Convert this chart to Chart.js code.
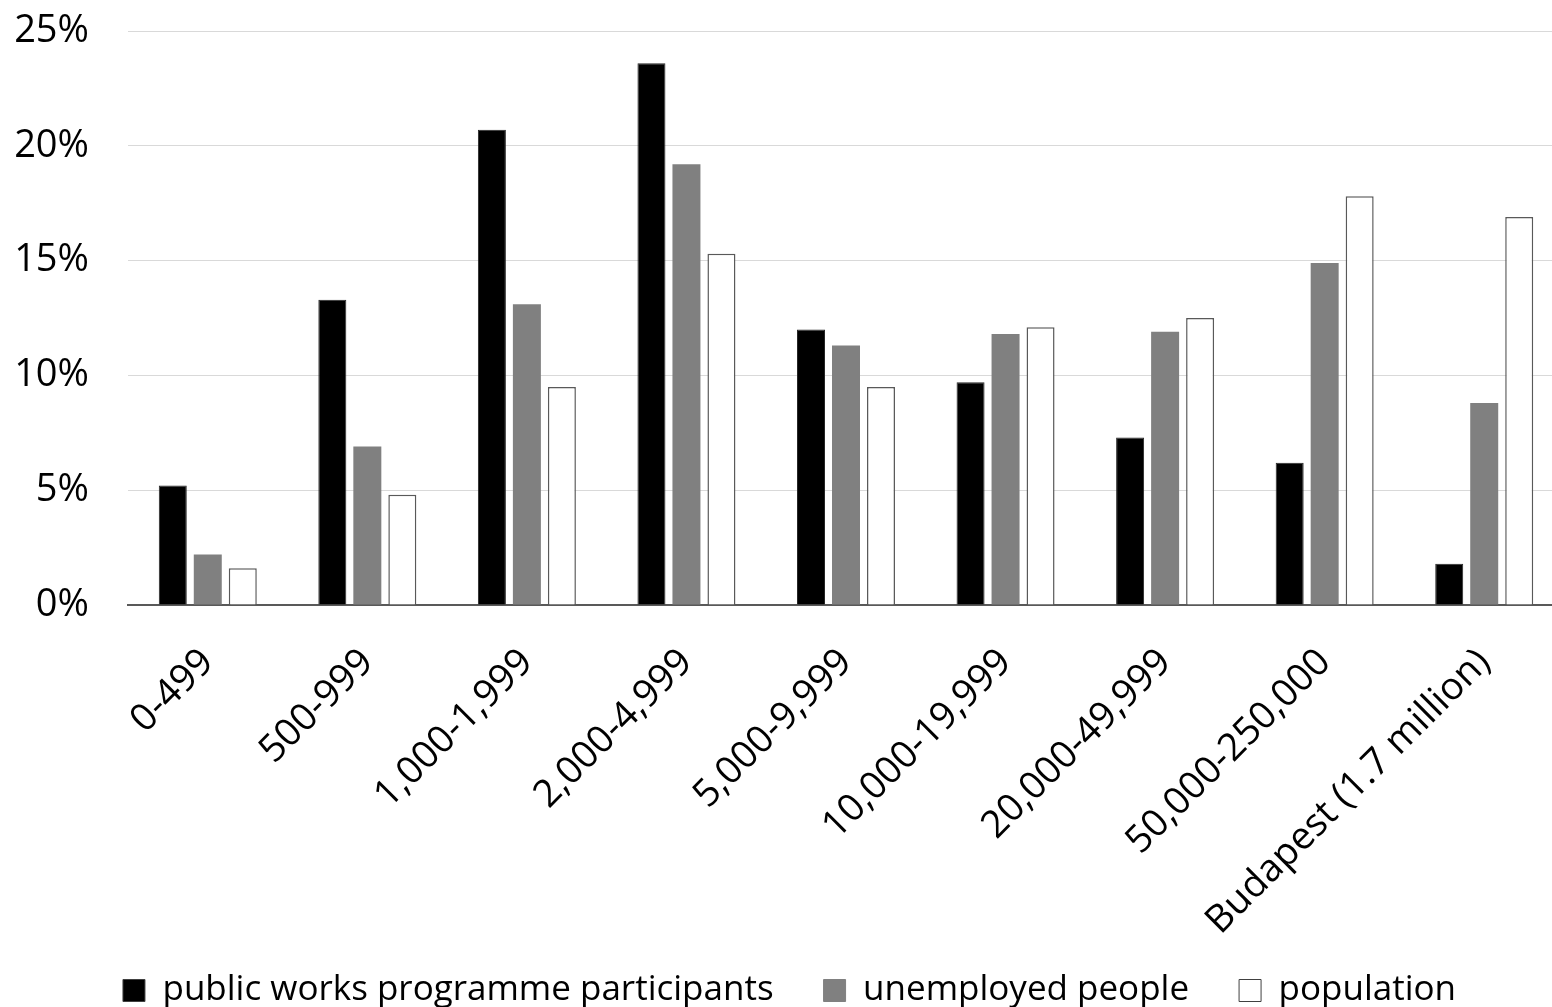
<!DOCTYPE html>
<html>
<head>
<meta charset="utf-8">
<script src="https://cdn.jsdelivr.net/npm/chart.js@4"></script>
<style>
  html, body { margin: 0; padding: 0; background: #fff; overflow: hidden; }
  /* the source chart is cropped a little on the right, so the canvas runs past the window */
  #wrap { width: 1564px; height: 1007px; }
</style>
</head>
<body>
<div id="wrap"><canvas id="chart"></canvas></div>
<script>
// Settlement size categories
const categories = ['0-499', '500-999', '1,000-1,999', '2,000-4,999', '5,000-9,999',
  '10,000-19,999', '20,000-49,999', '50,000-250,000', 'Budapest (1.7 million)'];

// Shares in percent
const publicWorks = [5.2, 13.3, 20.7, 23.6, 12.0, 9.7, 7.3, 6.2, 1.8];
const unemployed  = [2.2, 6.9, 13.1, 19.2, 11.3, 11.8, 11.9, 14.9, 8.8];
const population  = [1.6, 4.8, 9.5, 15.3, 9.5, 12.1, 12.5, 17.8, 16.9];

const yTicks = [0, 5, 10, 15, 20, 25];

const FONT = "'Open Sans', sans-serif";

// x labels run down into the legend's padding, so don't clip them to the axis box
const noLabelClip = {
  id: 'noLabelClip',
  afterLayout(chart) {
    chart.scales.x._computeLabelArea = function() { return undefined; };
  }
};

const ctx = document.getElementById('chart').getContext('2d');

new Chart(ctx, {
  type: 'bar',
  plugins: [noLabelClip],
  data: {
    labels: categories,
    datasets: [
      {
        label: 'public works programme participants',
        data: publicWorks,
        backgroundColor: '#000000',
        borderColor: '#262626',
        borderWidth: 1
      },
      {
        label: 'unemployed people',
        data: unemployed,
        backgroundColor: '#808080',
        borderColor: '#808080',
        borderWidth: 0
      },
      {
        label: 'population',
        data: population,
        backgroundColor: '#ffffff',
        borderColor: '#595959',
        borderWidth: 1.5
      }
    ]
  },
  options: {
    responsive: true,
    maintainAspectRatio: false,
    animation: false,
    categoryPercentage: 0.658,
    barPercentage: 0.8,
    layout: {
      padding: { left: 15, right: 0, top: 0, bottom: -11 }
    },
    plugins: {
      legend: {
        display: true,
        position: 'bottom',
        labels: {
          color: '#000',
          font: { family: FONT, size: 35 },
          boxWidth: 22,
          boxHeight: 22,
          padding: 50,
          generateLabels: function(chart) {
            return chart.data.datasets.map((ds, i) => ({
              text: ds.label,
              fillStyle: ds.backgroundColor,
              strokeStyle: i === 1 ? '#808080' : '#404040',
              lineWidth: 1,
              hidden: false,
              datasetIndex: i,
              fontColor: '#000'
            }));
          }
        }
      },
      tooltip: { enabled: false }
    },
    scales: {
      x: {
        grid: { display: false, drawTicks: false },
        border: { display: true, color: '#595959', width: 2 },
        ticks: {
          color: '#000',
          font: { family: FONT, size: 38 },
          minRotation: 45,
          maxRotation: 45,
          padding: 35,
          autoSkip: false
        },
        afterFit: function(scale) {
          scale.paddingLeft = 0;
          scale.paddingRight = 0;
          scale.height = 318;
        }
      },
      y: {
        min: 0,
        max: 25,
        afterBuildTicks: function(axis) {
          axis.ticks = yTicks.map(v => ({ value: v }));
        },
        grid: { color: '#d9d9d9', lineWidth: 1, drawTicks: false },
        border: { display: false },
        ticks: {
          color: '#000',
          font: { family: FONT, size: 38 },
          padding: 39,
          callback: function(value) {
            return value + '%';
          }
        },
        afterFit: function(scale) {
          scale.paddingTop = 31;
          scale.paddingBottom = 0;
          scale.width = 113;
        }
      }
    }
  }
});
</script>
</body>
</html>
